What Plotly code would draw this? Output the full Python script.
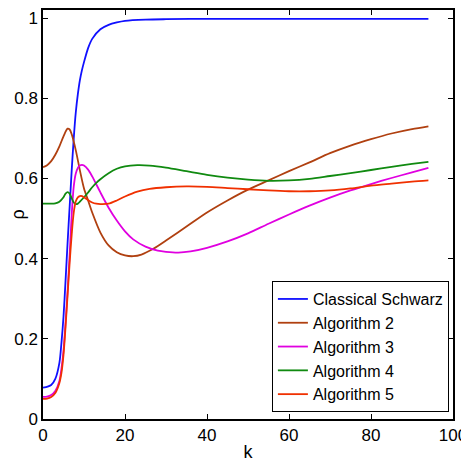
import plotly.graph_objects as go

names = ["Classical Schwarz", "Algorithm 2", "Algorithm 3", "Algorithm 4", "Algorithm 5"]
colors = ["#1010ff", "#b04010", "#e000e0", "#108a10", "#f03000"]

k_blue = [0, 2, 3, 4, 4.5, 5, 5.5, 6, 6.5, 7, 7.5, 8, 8.5, 9, 9.5, 10, 11, 12, 14, 16, 18, 20, 25, 30, 40, 60, 94]
rho_blue = [0.078, 0.085, 0.10, 0.14, 0.19, 0.255, 0.345, 0.44, 0.53, 0.62, 0.70, 0.765, 0.81, 0.845, 0.87, 0.89,
            0.925, 0.948, 0.972, 0.983, 0.989, 0.993, 0.996, 0.997, 0.998, 0.998, 0.998]

k_alg2 = [0, 1, 2, 3, 4, 5, 6, 6.5, 7, 8, 9, 10, 11, 12, 14, 16, 18, 20, 22, 24, 27, 30, 35, 40, 45, 50, 55, 60,
          65, 70, 75, 80, 85, 90, 94]
rho_alg2 = [0.628, 0.633, 0.643, 0.659, 0.68, 0.705, 0.724, 0.722, 0.71, 0.67, 0.62, 0.575, 0.545, 0.515, 0.465,
            0.433, 0.416, 0.408, 0.406, 0.41, 0.425, 0.445, 0.48, 0.515, 0.545, 0.572, 0.595, 0.618, 0.64, 0.663,
            0.682, 0.698, 0.712, 0.723, 0.730]

k_alg3 = [0, 1, 2, 3, 4, 4.5, 5, 5.5, 6, 6.5, 7, 7.5, 8, 8.5, 9, 9.5, 10, 11, 12, 14, 16, 18, 20, 22, 25, 28, 30,
          33, 36, 40, 45, 50, 55, 60, 65, 70, 75, 80, 85, 90, 94]
rho_alg3 = [0.055, 0.056, 0.06, 0.07, 0.095, 0.125, 0.17, 0.24, 0.32, 0.41, 0.51, 0.58, 0.612, 0.626, 0.632, 0.634,
            0.632, 0.622, 0.605, 0.565, 0.527, 0.495, 0.468, 0.448, 0.43, 0.42, 0.417, 0.415, 0.418, 0.427, 0.443,
            0.463, 0.487, 0.51, 0.532, 0.552, 0.57, 0.586, 0.601, 0.615, 0.626]

k_alg4 = [0, 2, 3, 4, 5, 5.5, 6, 6.5, 7, 7.5, 8, 8.5, 9, 10, 11, 12, 13, 14, 16, 18, 20, 23, 26, 30, 35, 40, 45,
          50, 55, 60, 65, 70, 75, 80, 85, 90, 94]
rho_alg4 = [0.537, 0.537, 0.538, 0.542, 0.553, 0.562, 0.566, 0.562, 0.55, 0.54, 0.536, 0.537, 0.542, 0.553, 0.565,
            0.578, 0.589, 0.598, 0.613, 0.624, 0.63, 0.633, 0.632, 0.627, 0.618, 0.609, 0.602, 0.597, 0.594, 0.595,
            0.599, 0.606, 0.613, 0.621, 0.629, 0.636, 0.641]

k_alg5 = [0, 1, 2, 3, 4, 4.5, 5, 5.5, 6, 6.5, 7, 7.5, 8, 8.5, 9, 9.5, 10, 11, 12, 13, 14, 16, 18, 20, 23, 26, 30,
          35, 40, 45, 50, 55, 60, 65, 70, 75, 80, 85, 90, 94]
rho_alg5 = [0.05, 0.051, 0.055, 0.065, 0.09, 0.115, 0.16, 0.23, 0.31, 0.39, 0.46, 0.515, 0.543, 0.553, 0.556, 0.556,
            0.553, 0.546, 0.54, 0.537, 0.536, 0.537, 0.545, 0.555, 0.567, 0.574, 0.578, 0.58, 0.579, 0.576, 0.573,
            0.57, 0.568, 0.568, 0.57, 0.575, 0.582, 0.587, 0.592, 0.595]

x_ticks = [0, 20, 40, 60, 80, 100]
y_ticks = [0, 0.2, 0.4, 0.6, 0.8, 1]
y_tick_labels = ["0", "0.2", "0.4", "0.6", "0.8", "1"]

series = [(k_blue, rho_blue), (k_alg2, rho_alg2), (k_alg3, rho_alg3), (k_alg4, rho_alg4), (k_alg5, rho_alg5)]

FONT = "Liberation Sans, Arial, sans-serif"

fig = go.Figure()
for (kx, ry), name, col in zip(series, names, colors):
    fig.add_trace(go.Scatter(x=kx, y=ry, mode="lines", name=name,
                             line=dict(color=col, width=1.8, shape="spline", smoothing=0.8)))

axis_common = dict(showline=True, linecolor="black", linewidth=1.5, mirror="ticks",
                   ticks="inside", ticklen=5, tickcolor="black", tickwidth=1,
                   showgrid=False, zeroline=False, automargin=False, ticklabeloverflow="allow",
                   tickfont=dict(family=FONT, size=17, color="black"))

# the page body has an 8px default margin, so the figure is sized/offset to compensate
fig.update_layout(
    width=461, height=454,
    margin=dict(l=34.5, r=16, t=2, b=43),
    paper_bgcolor="white", plot_bgcolor="white",
    font=dict(family=FONT, color="black"),
    xaxis=dict(range=[0, 100], tickvals=x_ticks, title=dict(text="k", font=dict(family=FONT, size=18), standoff=1),
               **axis_common),
    yaxis=dict(range=[0, 1.02], tickvals=y_ticks, ticktext=y_tick_labels,
               title=dict(text="ρ", font=dict(family=FONT, size=18), standoff=12), **axis_common),
    legend=dict(x=0.99, y=0.017, xanchor="right", yanchor="bottom",
                bordercolor="black", borderwidth=1, bgcolor="white",
                font=dict(family=FONT, size=16, color="black"), tracegroupgap=0,
                itemwidth=30),
    showlegend=True,
)

fig.write_html("out.html")
